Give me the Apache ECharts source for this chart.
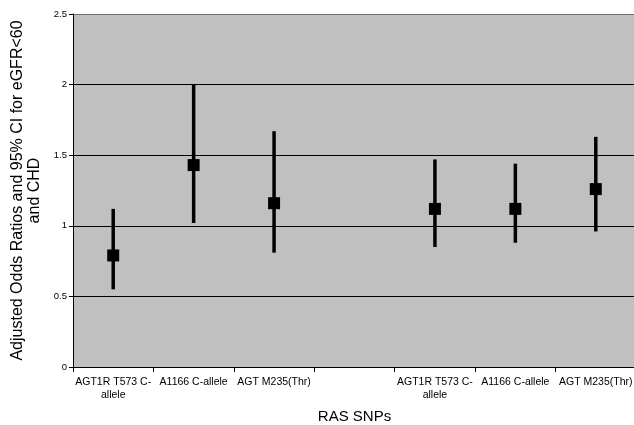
<!DOCTYPE html>
<html><head><meta charset="utf-8">
<script src="https://cdn.jsdelivr.net/npm/echarts@6/dist/echarts.min.js"></script>
<style>html,body{margin:0;padding:0;background:#fff}#c{width:634px;height:425px}</style>
</head><body><div id="c"></div>
<script>
var categories = ['AGT1R T573 C-\nallele', 'A1166 C-allele', 'AGT M235(Thr)', '', 'AGT1R T573 C-\nallele', 'A1166 C-allele', 'AGT M235(Thr)'];
var oddsRatio = [0.79, 1.43, 1.16, null, 1.12, 1.12, 1.26];
var ciLow = [0.55, 1.02, 0.81, null, 0.85, 0.88, 0.96];
var ciHigh = [1.12, 2.00, 1.67, null, 1.47, 1.44, 1.63];
var yTicks = [0, 0.5, 1, 1.5, 2, 2.5];

var ciData = [];
for (var i = 0; i < categories.length; i++) {
  if (oddsRatio[i] !== null) ciData.push([i, ciLow[i], ciHigh[i]]);
}
var pointData = [];
for (var j = 0; j < categories.length; j++) {
  if (oddsRatio[j] !== null) pointData.push([j, oddsRatio[j]]);
}

var chart = echarts.init(document.getElementById('c'));
chart.setOption({
  animation: false,
  textStyle: { fontFamily: 'Liberation Sans, Arial, sans-serif' },
  grid: { left: 73, right: -2, top: 14, bottom: 58, show: true, backgroundColor: '#c0c0c0', borderWidth: 0,
    containLabel: false, outerBoundsMode: 'none' },
  xAxis: {
    type: 'category',
    data: categories,
    boundaryGap: true,
    name: 'RAS SNPs',
    nameLocation: 'middle',
    nameGap: 42,
    nameTextStyle: { fontSize: 15, color: '#000', fontFamily: 'Liberation Sans' },
    axisLine: { lineStyle: { color: '#000', width: 1 } },
    axisTick: { show: true, length: 5, lineStyle: { color: '#000' }, alignWithLabel: false },
    axisLabel: { fontSize: 10.5, color: '#000', margin: 9, interval: 0, lineHeight: 13, fontFamily: 'Liberation Sans' },
    splitLine: { show: false }
  },
  yAxis: {
    type: 'value',
    min: 0, max: 2.5, interval: 0.5,
    name: 'Adjusted Odds Ratios and 95% CI for eGFR<60\nand CHD',
    nameLocation: 'middle',
    nameGap: 25,
    nameTextStyle: { fontSize: 16, color: '#000', lineHeight: 17, fontFamily: 'Liberation Sans' },
    axisLine: { show: true, lineStyle: { color: '#000' } },
    axisTick: { show: true, length: 4, lineStyle: { color: '#000' } },
    axisLabel: { fontSize: 9.5, color: '#000', margin: 6, fontFamily: 'Liberation Sans',
      formatter: function (v) { return yTicks.indexOf(v) >= 0 ? String(v) : ''; } },
    splitLine: { show: true, lineStyle: { color: ['#000', '#000', '#000', '#000', '#000', '#707070'], width: 1 } }
  },
  series: [
    {
      type: 'custom',
      data: ciData,
      renderItem: function (params, api) {
        var x = api.value(0);
        var p1 = api.coord([x, api.value(1)]);
        var p2 = api.coord([x, api.value(2)]);
        return {
          type: 'line',
          shape: { x1: p1[0], y1: p1[1], x2: p2[0], y2: p2[1] },
          style: { stroke: '#000', lineWidth: 3.5 }
        };
      },
      encode: { x: 0, y: [1, 2] },
      z: 2
    },
    {
      type: 'scatter',
      data: pointData,
      symbol: 'rect',
      symbolSize: 12,
      itemStyle: { color: '#000', opacity: 1 },
      z: 3
    }
  ]
});
</script>
</body></html>
